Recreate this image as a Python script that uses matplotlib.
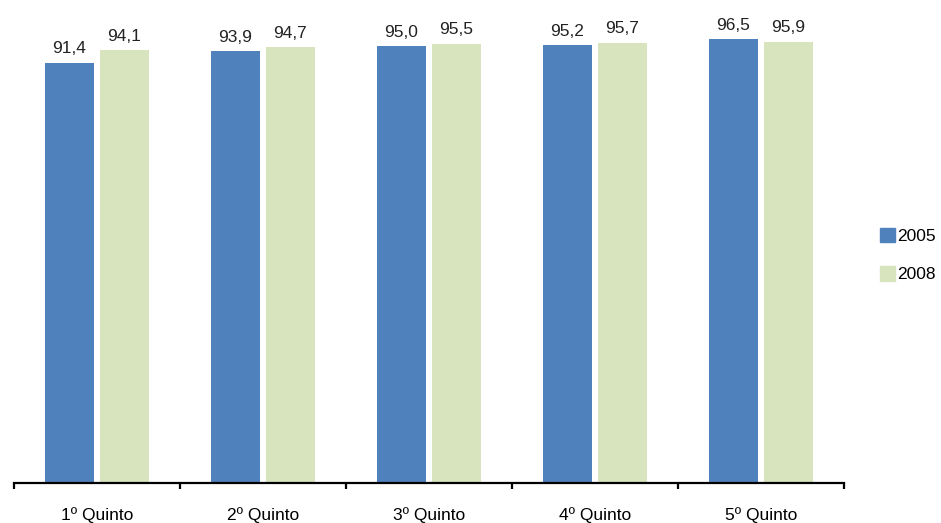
import matplotlib
matplotlib.use("Agg")
import matplotlib.pyplot as plt
import numpy as np
from matplotlib.patches import Patch

categories = ["1º Quinto", "2º Quinto", "3º Quinto", "4º Quinto", "5º Quinto"]
series_names = ["2005", "2008"]
values_2005 = [91.4, 93.9, 95.0, 95.2, 96.5]
values_2008 = [94.1, 94.7, 95.5, 95.7, 95.9]
colors = ["#4F81BD", "#D7E4BD"]

plt.rcParams['font.family'] = ['Liberation Sans', 'DejaVu Sans']

W, H = 941, 523
fig = plt.figure(figsize=(W/100, H/100), dpi=100)
left, right, bottom, top = 14, 844, 483, 23
ax = fig.add_axes([left/W, 1-bottom/H, (right-left)/W, (bottom-top)/H])

x = np.arange(len(categories))
bw = 0.295
gap = 0.018
b1 = ax.bar(x - bw/2 - gap, values_2005, bw, color=colors[0], label=series_names[0])
b2 = ax.bar(x + bw/2 + gap, values_2008, bw, color=colors[1], label=series_names[1])

fs = 12.5
for bars, vals in ((b1, values_2005), (b2, values_2008)):
    for r, v in zip(bars, vals):
        ax.text(r.get_x() + r.get_width()/2, v + 1.4, f"{v:.1f}".replace(".", ","),
                ha="center", va="bottom", fontsize=fs, color="#222222")

ax.set_xlim(-0.5, len(categories) - 0.5)
ax.set_ylim(0, 100)
for s in ["top", "right", "left"]:
    ax.spines[s].set_visible(False)
ax.spines["bottom"].set_linewidth(1.6)
ax.set_yticks([])
ax.set_xticks(x)
ax.set_xticklabels(categories, fontsize=fs)
ax.tick_params(axis="x", which="major", length=0, pad=17)
ax.set_xticks(np.arange(len(categories) + 1) - 0.5, minor=True)
ax.tick_params(axis="x", which="minor", length=4, width=1.6, direction="out")

handles = [Patch(color=colors[0]), Patch(color=colors[1])]
fig.legend(handles, series_names, loc="center left", bbox_to_anchor=(864/W, 1-255/H),
           frameon=False, fontsize=fs, handlelength=0.9, handleheight=0.9,
           handletextpad=0.1, labelspacing=1.3)

fig.savefig("out.png", dpi=100)
